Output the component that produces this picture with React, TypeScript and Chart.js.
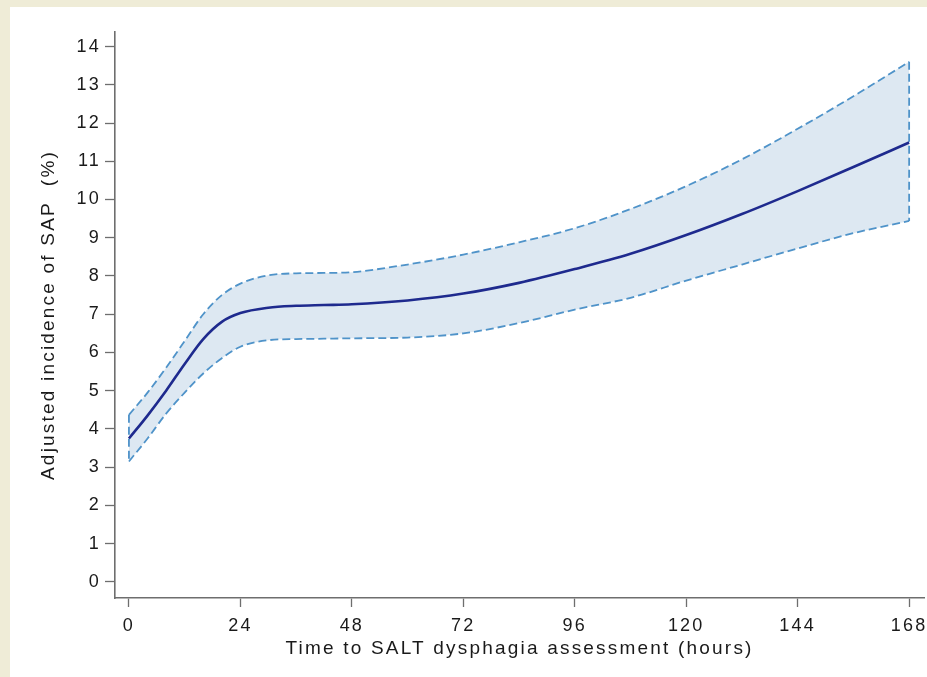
import React, { useEffect, useRef } from "react";
import { Chart, registerables } from "chart.js";

Chart.register(...registerables);

// Hours since admission at which the fitted curve is evaluated
const hours = [0, 4, 8, 12, 16, 20, 24, 30, 36, 42, 48, 60, 72, 84, 96, 108, 120, 132, 144, 156, 168];
// Adjusted incidence of SAP (%) – point estimate
const estimate = [3.75, 4.35, 5.0, 5.7, 6.35, 6.8, 7.03, 7.17, 7.22, 7.24, 7.26, 7.36, 7.54, 7.82, 8.18, 8.58, 9.07, 9.62, 10.22, 10.85, 11.49];
// Upper 95% confidence limit
const upperCI = [4.37, 4.95, 5.6, 6.3, 7.0, 7.5, 7.8, 8.02, 8.07, 8.08, 8.1, 8.3, 8.56, 8.88, 9.25, 9.75, 10.35, 11.05, 11.85, 12.7, 13.6];
// Lower 95% confidence limit
const lowerCI = [3.15, 3.75, 4.4, 4.95, 5.45, 5.85, 6.15, 6.32, 6.35, 6.36, 6.37, 6.39, 6.5, 6.77, 7.12, 7.43, 7.88, 8.3, 8.72, 9.12, 9.44];

const xTicks = [0, 24, 48, 72, 96, 120, 144, 168];
const yTicks = [0, 1, 2, 3, 4, 5, 6, 7, 8, 9, 10, 11, 12, 13, 14];

const FONT = "'Liberation Sans', Arial, Helvetica, sans-serif";
const LETTER_SPACING = "2.2px";
const AXIS_GREY = "#6e6e6e";
const TEXT = "#1a1a1a";
const BAND_FILL = "#dde8f2";
const BAND_LINE = "#4f93c9";
const EST_LINE = "#1e2a8e";
const BAND_DASH = [8, 4];
const BAND_WIDTH = 1.8;

const toPoints = (ys: number[]) => hours.map((h, i) => ({ x: h, y: ys[i] }));

// Wider text tracking for all chart labels
const trackingPlugin = {
  id: "tracking",
  beforeLayout(chart: any) {
    chart.ctx.letterSpacing = LETTER_SPACING;
  },
  beforeDraw(chart: any) {
    chart.ctx.letterSpacing = LETTER_SPACING;
  },
};

export default function App() {
  const canvasRef = useRef<HTMLCanvasElement | null>(null);

  useEffect(() => {
    const canvas = canvasRef.current;
    if (!canvas) return;
    const last = hours.length - 1;
    const edge = (i: number) => ({
      data: [
        { x: hours[i], y: upperCI[i] },
        { x: hours[i], y: lowerCI[i] },
      ],
      borderColor: BAND_LINE,
      borderWidth: BAND_WIDTH,
      borderDash: BAND_DASH,
      pointRadius: 0,
      fill: false,
      tension: 0,
    });
    const chart = new Chart(canvas, {
      type: "line",
      data: {
        datasets: [
          {
            label: "Estimate",
            data: toPoints(estimate),
            borderColor: EST_LINE,
            borderWidth: 2.6,
            pointRadius: 0,
            fill: false,
            cubicInterpolationMode: "monotone",
          },
          {
            label: "Upper",
            data: toPoints(upperCI),
            borderColor: BAND_LINE,
            borderWidth: BAND_WIDTH,
            borderDash: BAND_DASH,
            pointRadius: 0,
            backgroundColor: BAND_FILL,
            fill: "+1",
            cubicInterpolationMode: "monotone",
          },
          {
            label: "Lower",
            data: toPoints(lowerCI),
            borderColor: BAND_LINE,
            borderWidth: BAND_WIDTH,
            borderDash: BAND_DASH,
            pointRadius: 0,
            fill: false,
            cubicInterpolationMode: "monotone",
          },
          { label: "Start edge", ...edge(0) },
          { label: "End edge", ...edge(last) },
        ],
      },
      options: {
        animation: false,
        responsive: false,
        maintainAspectRatio: false,
        layout: { padding: { left: 0, top: 25, right: 3, bottom: 0 } },
        plugins: {
          legend: { display: false },
          tooltip: { enabled: false },
          filler: { drawTime: "beforeDatasetsDraw" },
        },
        scales: {
          x: {
            type: "linear",
            min: -3,
            max: 171.2,
            afterBuildTicks: (scale: any) => {
              scale.ticks = xTicks.map((v) => ({ value: v }));
            },
            afterFit: (scale: any) => {
              scale.height = 79;
              scale.paddingLeft = 0;
              scale.paddingRight = 0;
            },
            grid: {
              display: true,
              drawOnChartArea: false,
              drawTicks: true,
              tickLength: 9,
              tickWidth: 1.3,
              tickColor: AXIS_GREY,
            },
            border: { display: true, color: AXIS_GREY, width: 1.6 },
            ticks: {
              color: TEXT,
              font: { family: FONT, size: 18 },
              padding: 8,
              maxRotation: 0,
              autoSkip: false,
            },
            title: {
              display: true,
              text: "Time to SALT dysphagia assessment (hours)",
              color: TEXT,
              font: { family: FONT, size: 19 },
              padding: { top: 0, bottom: 17 },
            },
          },
          y: {
            type: "linear",
            min: -0.42,
            max: 14.38,
            afterBuildTicks: (scale: any) => {
              scale.ticks = yTicks.map((v) => ({ value: v }));
            },
            afterFit: (scale: any) => {
              scale.width = 105;
              scale.paddingTop = 0;
              scale.paddingBottom = 0;
            },
            grid: {
              display: true,
              drawOnChartArea: false,
              drawTicks: true,
              tickLength: 10,
              tickWidth: 1.3,
              tickColor: AXIS_GREY,
            },
            border: { display: true, color: AXIS_GREY, width: 1.6 },
            ticks: {
              color: TEXT,
              font: { family: FONT, size: 18 },
              padding: 4,
              autoSkip: false,
            },
            title: {
              display: true,
              text: "Adjusted incidence of SAP  (%)",
              color: TEXT,
              font: { family: FONT, size: 19 },
              padding: { top: 27, bottom: 0 },
            },
          },
        },
      },
      plugins: [trackingPlugin],
    } as any);
    return () => chart.destroy();
  }, []);

  return (
    <div
      style={{
        position: "fixed",
        left: 0,
        top: 0,
        width: 927,
        height: 677,
        background: "#efecd7",
      }}
    >
      <div
        style={{
          position: "absolute",
          left: 10,
          top: 7,
          width: 917,
          height: 670,
          background: "#ffffff",
        }}
      >
        <canvas ref={canvasRef} width={917} height={670} style={{ display: "block" }} />
      </div>
    </div>
  );
}
